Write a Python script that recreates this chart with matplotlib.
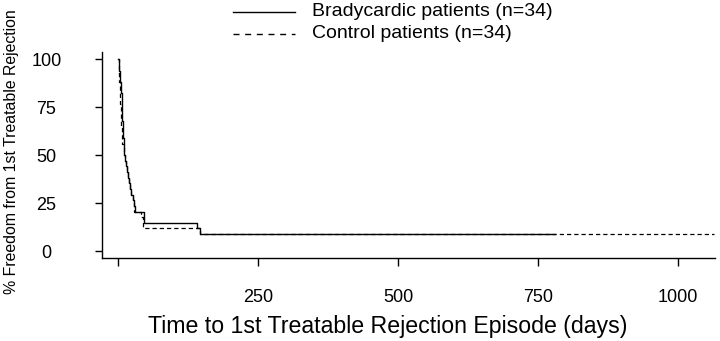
import matplotlib
matplotlib.use("Agg")
import matplotlib.pyplot as plt
from matplotlib.lines import Line2D

plt.rcParams['font.family'] = ['Liberation Sans', 'DejaVu Sans']

N = 34
# Bradycardic patients: step times (days) and number remaining event-free
brady_t = [0, 2, 3, 4, 5, 6, 7, 8, 9, 10, 11, 12, 14, 16, 18, 20, 22, 24, 26, 28, 30, 47, 141, 146]
brady_n = [34, 32, 31, 30, 29, 28, 26, 23, 20, 18, 17, 16, 15, 14, 13, 12, 11, 10, 9, 8, 7, 5, 4, 3]
brady_end = 780

# Control patients
ctrl_t = [0, 1, 2, 3, 4, 5, 6, 7, 8, 10, 12, 14, 16, 18, 20, 22, 24, 26, 28, 41, 45, 146]
ctrl_n = [34, 32, 30, 28, 26, 24, 22, 20, 19, 17, 16, 15, 14, 13, 12, 11, 10, 9, 7, 6, 4, 3]
ctrl_end = 1065

xticks = [250, 500, 750, 1000]
yticks = [0, 25, 50, 75, 100]
labels = ['Bradycardic patients (n=34)', 'Control patients (n=34)']

fig = plt.figure(figsize=(7.2, 3.41), dpi=100)
ax = fig.add_axes([102/720, (341-258)/341, 613/720, 206/341])

def km(t, n, end):
    xs = list(t) + [end]
    ys = [100.0 * v / N for v in n] + [100.0 * n[-1] / N]
    return xs, ys

bx, by = km(brady_t, brady_n, brady_end)
cx, cy = km(ctrl_t, ctrl_n, ctrl_end)
ax.step(cx, cy, where='post', color='black', lw=0.9, linestyle=(0, (3.4, 2.4)))
ax.step(bx, by, where='post', color='black', lw=1.0)

ax.set_xlim(-28.6, 1066)
ax.set_ylim(-3.65, 103.8)
for s in ['top', 'right']:
    ax.spines[s].set_visible(False)
ax.spines['left'].set_linewidth(1.0)
ax.spines['bottom'].set_linewidth(1.0)

ax.set_xticks([0] + xticks)
ax.set_xticklabels([''] + [str(v) for v in xticks], fontsize=13)
ax.set_yticks(yticks)
ax.set_yticklabels([str(v) for v in yticks], fontsize=13)
for lab in ax.get_yticklabels():
    lab.set_horizontalalignment('center')
ax.tick_params(axis='y', length=5, width=1, pad=35, direction='out')
ax.tick_params(axis='x', length=6, width=1, pad=16, direction='out')

fig.text(388/720, 1 - 327/341, 'Time to 1st Treatable Rejection Episode (days)',
         ha='center', va='center', fontsize=16.7)
fig.text(12/720, 1 - 152/341, '% Freedom from 1st Treatable Rejection',
         ha='center', va='center', rotation=90, fontsize=11.4)

# legend drawn at the top of the figure
rows = [12, 34]
styles = [dict(lw=1.0, linestyle='-'), dict(lw=1.0, linestyle=(0, (4.3, 4.1)))]
for lab, yy, st in zip(labels, rows, styles):
    yf = 1 - yy/341
    fig.add_artist(Line2D([233/720, 295/720], [yf, yf], color='black',
                          transform=fig.transFigure, **st))
    fig.text(312/720, yf, lab, ha='left', va='center', fontsize=14)

fig.savefig('out.png', dpi=100)
